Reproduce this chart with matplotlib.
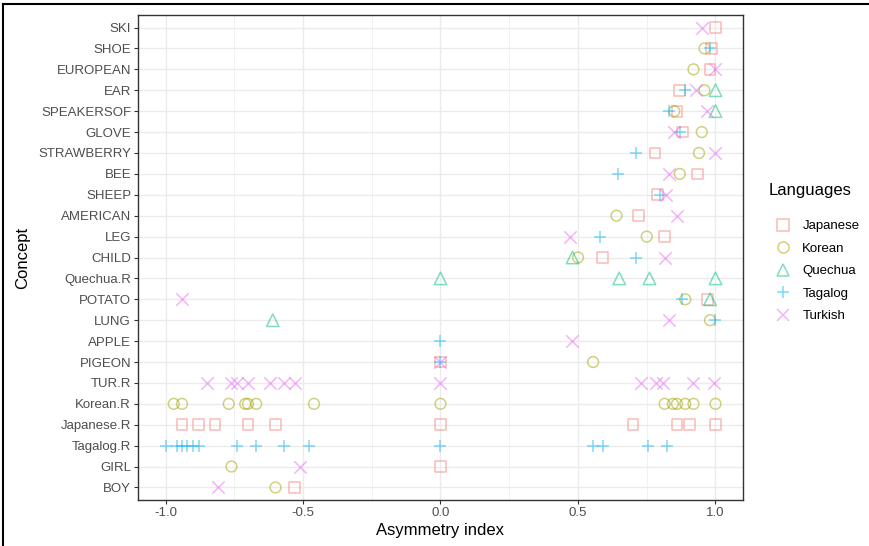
import matplotlib
matplotlib.use("Agg")
import matplotlib.pyplot as plt
from matplotlib.lines import Line2D

plt.rcParams['font.family'] = ['Liberation Sans', 'DejaVu Sans']

concepts = ["SKI", "SHOE", "EUROPEAN", "EAR", "SPEAKERSOF", "GLOVE", "STRAWBERRY",
            "BEE", "SHEEP", "AMERICAN", "LEG", "CHILD", "Quechua.R", "POTATO", "LUNG",
            "APPLE", "PIGEON", "TUR.R", "Korean.R", "Japanese.R", "Tagalog.R", "GIRL", "BOY"]

japanese_c = ["SKI", "SHOE", "EUROPEAN", "EAR", "SPEAKERSOF", "GLOVE", "STRAWBERRY", "BEE",
              "SHEEP", "AMERICAN", "LEG", "CHILD", "POTATO", "PIGEON",
              "Japanese.R", "Japanese.R", "Japanese.R", "Japanese.R", "Japanese.R", "Japanese.R",
              "Japanese.R", "Japanese.R", "Japanese.R", "Japanese.R", "GIRL", "BOY"]
japanese_v = [1.0, 0.985, 0.98, 0.87, 0.86, 0.88, 0.78, 0.935,
              0.79, 0.72, 0.815, 0.59, 0.97, 0.0,
              -0.94, -0.88, -0.82, -0.70, -0.60, 0.0, 0.70, 0.86, 0.905, 1.0, 0.0, -0.53]

korean_c = ["SHOE", "EUROPEAN", "EAR", "SPEAKERSOF", "GLOVE", "STRAWBERRY", "BEE",
            "AMERICAN", "LEG", "CHILD", "POTATO", "LUNG", "PIGEON",
            "Korean.R", "Korean.R", "Korean.R", "Korean.R", "Korean.R", "Korean.R", "Korean.R",
            "Korean.R", "Korean.R", "Korean.R", "Korean.R", "Korean.R", "Korean.R", "Korean.R",
            "GIRL", "BOY"]
korean_v = [0.96, 0.92, 0.96, 0.85, 0.95, 0.94, 0.87,
            0.64, 0.75, 0.50, 0.89, 0.98, 0.555,
            -0.97, -0.94, -0.77, -0.71, -0.70, -0.67, -0.46, 0.0,
            0.815, 0.845, 0.86, 0.89, 0.92, 1.0,
            -0.76, -0.60]

quechua_c = ["EAR", "SPEAKERSOF", "CHILD", "Quechua.R", "Quechua.R", "Quechua.R", "Quechua.R",
             "POTATO", "LUNG"]
quechua_v = [1.0, 1.0, 0.48, 0.0, 0.65, 0.76, 1.0, 0.98, -0.61]

tagalog_c = ["SHOE", "EAR", "SPEAKERSOF", "GLOVE", "STRAWBERRY", "BEE", "SHEEP", "LEG",
             "CHILD", "POTATO", "LUNG", "APPLE", "PIGEON",
             "Tagalog.R", "Tagalog.R", "Tagalog.R", "Tagalog.R", "Tagalog.R", "Tagalog.R",
             "Tagalog.R", "Tagalog.R", "Tagalog.R", "Tagalog.R", "Tagalog.R",
             "Tagalog.R", "Tagalog.R", "Tagalog.R", "Tagalog.R"]
tagalog_v = [0.98, 0.89, 0.83, 0.87, 0.71, 0.645, 0.80, 0.58,
             0.71, 0.88, 1.0, 0.0, 0.0,
             -1.0, -0.96, -0.94, -0.92, -0.90, -0.88,
             -0.74, -0.67, -0.57, -0.48, 0.0,
             0.555, 0.59, 0.755, 0.825]

turkish_c = ["SKI", "EUROPEAN", "EAR", "SPEAKERSOF", "GLOVE", "STRAWBERRY", "BEE", "SHEEP",
             "AMERICAN", "LEG", "CHILD", "POTATO", "LUNG", "APPLE", "PIGEON",
             "TUR.R", "TUR.R", "TUR.R", "TUR.R", "TUR.R", "TUR.R", "TUR.R", "TUR.R",
             "TUR.R", "TUR.R", "TUR.R", "TUR.R", "TUR.R", "GIRL", "BOY"]
turkish_v = [0.95, 1.0, 0.93, 0.97, 0.85, 1.0, 0.83, 0.82,
             0.86, 0.47, 0.815, -0.94, 0.83, 0.48, 0.0,
             -0.85, -0.76, -0.74, -0.70, -0.62, -0.57, -0.53, 0.0,
             0.73, 0.785, 0.81, 0.92, 0.995, -0.51, -0.81]

languages = ["Japanese", "Korean", "Quechua", "Tagalog", "Turkish"]
colors = ["#F8766D", "#A3A500", "#00BF7D", "#00B0F6", "#E76BF3"]
markers = ["s", "o", "^", "+", "x"]
series = [(japanese_c, japanese_v), (korean_c, korean_v), (quechua_c, quechua_v),
          (tagalog_c, tagalog_v), (turkish_c, turkish_v)]

ALPHA = 0.5

fig = plt.figure(figsize=(8.7, 5.46), dpi=100)
ax = fig.add_axes([138 / 870, 1 - 500 / 546, (743 - 138) / 870, (500 - 15) / 546])

ypos = {c: len(concepts) - i for i, c in enumerate(concepts)}

for (cs, vs), col, mk in zip(series, colors, markers):
    ys = [ypos[c] for c in cs]
    if mk in ("+", "x"):
        ax.scatter(vs, ys, marker=mk, s=80, color=col, alpha=ALPHA, linewidths=1.1, zorder=3)
    else:
        ax.scatter(vs, ys, marker=mk, s=60 if mk != "^" else 80, facecolors="none",
                   edgecolors=col, alpha=ALPHA, linewidths=1.1, zorder=3)

ax.set_xlim(-1.1, 1.1)
ax.set_ylim(0.4, len(concepts) + 0.6)
ax.set_xticks([-1.0, -0.5, 0.0, 0.5, 1.0])
ax.set_xticklabels(["-1.0", "-0.5", "0.0", "0.5", "1.0"])
ax.set_xticks([-0.75, -0.25, 0.25, 0.75], minor=True)
ax.set_yticks([ypos[c] for c in concepts])
ax.set_yticklabels(concepts)

ax.grid(True, which="major", color="#EBEBEB", linewidth=1.0, zorder=0)
ax.grid(True, which="minor", axis="x", color="#EBEBEB", linewidth=0.5, zorder=0)
ax.set_axisbelow(True)
for sp in ax.spines.values():
    sp.set_color("#333333")
    sp.set_linewidth(1.0)
ax.tick_params(axis="both", which="major", colors="#333333", labelcolor="#4D4D4D",
               labelsize=9.5, length=3, width=0.8, pad=2)
ax.tick_params(axis="both", which="minor", length=0)

ax.set_xlabel("Asymmetry index", fontsize=12, color="black", labelpad=3)
ax.set_ylabel("Concept", fontsize=12, color="black")
ax.yaxis.set_label_coords((30 - 138) / (743 - 138), 0.5)

handles = []
for lang, col, mk in zip(languages, colors, markers):
    if mk in ("+", "x"):
        h = Line2D([], [], linestyle="none", marker=mk, markersize=9, color=col, alpha=ALPHA,
                   markeredgewidth=1.1)
    else:
        h = Line2D([], [], linestyle="none", marker=mk, markersize=8, markerfacecolor="none",
                   markeredgecolor=col, alpha=ALPHA, markeredgewidth=1.1)
    handles.append(h)
leg = fig.legend(handles, languages, loc="upper left",
                 bbox_to_anchor=(772 / 870, 1 - 220 / 546), frameon=False,
                 fontsize=9.5, handletextpad=0.7, labelspacing=0.78, handlelength=1.6,
                 borderaxespad=0, borderpad=0)
fig.text(769 / 870, 1 - 190 / 546, "Languages", fontsize=12, ha="left", va="center")

# outer frame lines (top and left)
fig.add_artist(Line2D([3 / 870, 1], [1 - 4 / 546, 1 - 4 / 546], color="black", linewidth=1.5,
                      transform=fig.transFigure))
fig.add_artist(Line2D([3 / 870, 3 / 870], [0, 1 - 4 / 546], color="black", linewidth=1.5,
                      transform=fig.transFigure))

fig.savefig("out.png", dpi=100)
